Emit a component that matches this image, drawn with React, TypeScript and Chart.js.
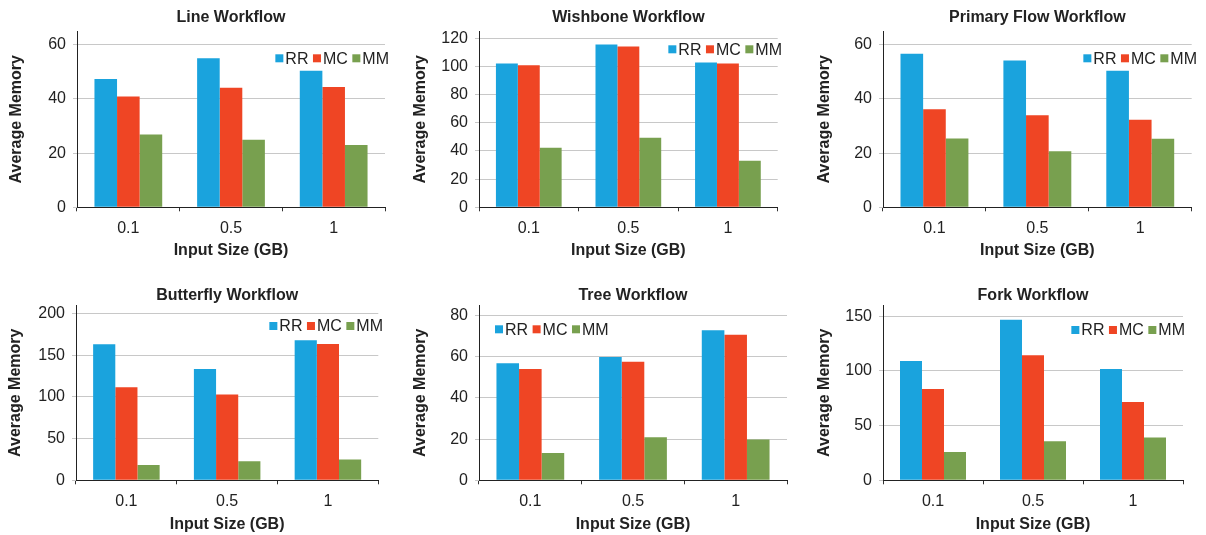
import React, { useEffect, useRef } from "react";
import { Chart, registerables } from "chart.js";

Chart.register(...registerables);

const FONT = "'Liberation Sans', Arial, Helvetica, sans-serif";

// ---------------- data ----------------
const categories = ["0.1", "0.5", "1"];
const seriesNames = ["RR", "MC", "MM"];

const lineRR = [47.4, 55.0, 50.4];
const lineMC = [40.9, 44.1, 44.4];
const lineMM = [26.9, 24.9, 23.0];

const wishboneRR = [102.0, 115.5, 102.7];
const wishboneMC = [100.8, 114.1, 102.0];
const wishboneMM = [42.2, 49.3, 33.0];

const primaryRR = [56.7, 54.2, 50.4];
const primaryMC = [36.2, 34.0, 32.3];
const primaryMM = [25.4, 20.7, 25.3];

const butterflyRR = [163.2, 133.6, 168.0];
const butterflyMC = [111.6, 102.8, 163.6];
const butterflyMM = [18.4, 22.8, 24.8];

const treeRR = [56.8, 59.9, 72.9];
const treeMC = [54.0, 57.6, 70.6];
const treeMM = [13.3, 20.9, 19.8];

const forkRR = [109.1, 146.6, 101.8];
const forkMC = [83.5, 114.3, 71.6];
const forkMM = [25.9, 35.7, 39.0];

const titles = [
  "Line Workflow",
  "Wishbone Workflow",
  "Primary Flow Workflow",
  "Butterfly Workflow",
  "Tree Workflow",
  "Fork Workflow",
];
const yMax = [65, 125, 65, 210, 85, 160];
const yTickTop = [60, 120, 60, 200, 80, 150];
const yStep = [20, 20, 20, 50, 20, 50];
const yTitle = "Average Memory";
const xTitle = "Input Size (GB)";

const panelData = [
  [lineRR, lineMC, lineMM],
  [wishboneRR, wishboneMC, wishboneMM],
  [primaryRR, primaryMC, primaryMM],
  [butterflyRR, butterflyMC, butterflyMM],
  [treeRR, treeMC, treeMM],
  [forkRR, forkMC, forkMM],
];

// ---------------- styles / layout ----------------
const COLORS = ["#1aa3dd", "#ef4524", "#78a04f"];

const LAYOUT = [
  { x: 0, y: 0, w: 402, h: 270, yw: 77, pr: 17, xh: 62.7, tTop: 8, tBot: 4, yTitleX: 16.7, xTitlePad: 10, legSide: "right", legX: 389, legY: 58.3 },
  { x: 402, y: 0, w: 402, h: 270, yw: 77, pr: 26.3, xh: 62.7, tTop: 8, tBot: 4, yTitleX: 18.8, xTitlePad: 10, legSide: "right", legX: 380, legY: 49.3 },
  { x: 804, y: 0, w: 402, h: 270, yw: 79, pr: 14.3, xh: 62.7, tTop: 8, tBot: 4, yTitleX: 20.8, xTitlePad: 10, legSide: "right", legX: 393, legY: 58.3 },
  { x: 0, y: 270, w: 402, h: 265, yw: 76, pr: 23.7, xh: 54.7, tTop: 16, tBot: 0, yTitleX: 15.7, xTitlePad: 0.5, legSide: "right", legX: 383, legY: 56 },
  { x: 402, y: 270, w: 402, h: 265, yw: 77, pr: 17, xh: 54.7, tTop: 16, tBot: 0, yTitleX: 18.8, xTitlePad: 0.5, legSide: "left", legX: 93, legY: 59.3 },
  { x: 804, y: 270, w: 402, h: 265, yw: 79, pr: 23, xh: 54.7, tTop: 16, tBot: 0, yTitleX: 21, xTitlePad: 0.5, legSide: "right", legX: 381, legY: 60 },
];

const insideLegend = {
  id: "insideLegend",
  afterDraw(chart: any, _args: any, opts: any) {
    const ctx = chart.ctx;
    const box = 8;
    const gapBoxText = 2;
    const gapItem = 4.5;
    ctx.save();
    ctx.font = `16px ${FONT}`;
    ctx.textBaseline = "middle";
    ctx.textAlign = "left";
    const items = chart.data.datasets.map((d: any) => ({
      label: d.label,
      color: d.backgroundColor,
      w: ctx.measureText(d.label).width,
    }));
    let total = 0;
    items.forEach((it: any, i: number) => {
      total += box + gapBoxText + it.w + (i < items.length - 1 ? gapItem : 0);
    });
    let x = opts.side === "right" ? opts.x - total : opts.x;
    const y = opts.y;
    items.forEach((it: any) => {
      ctx.fillStyle = it.color;
      ctx.fillRect(x, y - box / 2, box, box);
      x += box + gapBoxText;
      ctx.fillStyle = "#222";
      ctx.fillText(it.label, x, y + 1);
      x += it.w + gapItem;
    });
    ctx.restore();
  },
};

function Panel({ idx }: { idx: number }) {
  const ref = useRef<HTMLCanvasElement | null>(null);
  const L = LAYOUT[idx];
  useEffect(() => {
    if (!ref.current) return;
    const step = yStep[idx];
    const top = yTickTop[idx];
    const chart = new Chart(ref.current, {
      type: "bar",
      data: {
        labels: categories,
        datasets: seriesNames.map((name, i) => ({
          label: name,
          data: panelData[idx][i],
          backgroundColor: COLORS[i],
          borderWidth: 0,
          categoryPercentage: 0.66,
          barPercentage: 1.0,
        })),
      },
      options: {
        responsive: false,
        animation: false,
        layout: { padding: { left: 0, right: L.pr, top: 0, bottom: 0 } },
        plugins: {
          legend: { display: false },
          tooltip: { enabled: false },
          title: {
            display: true,
            text: titles[idx],
            fullSize: false,
            color: "#222",
            font: { family: FONT, size: 16, weight: "bold" },
            padding: { top: L.tTop, bottom: L.tBot },
          },
          insideLegend: { side: L.legSide, x: L.legX, y: L.legY },
        } as any,
        scales: {
          x: {
            offset: true,
            grid: {
              offset: true,
              drawOnChartArea: false,
              drawTicks: true,
              tickLength: 4,
              color: "#333",
            },
            border: { color: "#222", width: 1 },
            ticks: {
              color: "#222",
              font: { family: FONT, size: 16 },
              padding: 8,
              maxRotation: 0,
            },
            title: {
              display: true,
              text: xTitle,
              color: "#222",
              font: { family: FONT, size: 16, weight: "bold" },
              padding: { top: 0, bottom: L.xTitlePad },
            },
            afterFit: (s: any) => {
              s.height = L.xh;
            },
          },
          y: {
            min: 0,
            max: yMax[idx],
            grid: {
              color: "#c8c8c8",
              lineWidth: 1,
              drawTicks: true,
              tickLength: 4,
            },
            border: { color: "#222", width: 1 },
            ticks: {
              stepSize: step,
              color: "#222",
              font: { family: FONT, size: 16 },
              padding: 7,
            },
            afterBuildTicks: (axis: any) => {
              const t: any[] = [];
              for (let v = 0; v <= top + 1e-9; v += step) t.push({ value: v });
              axis.ticks = t;
            },
            title: {
              display: true,
              text: yTitle,
              color: "#222",
              font: { family: FONT, size: 16, weight: "bold" },
              padding: { top: L.yTitleX - 9.6, bottom: 0 },
            },
            afterFit: (s: any) => {
              s.width = L.yw;
            },
          },
        },
      },
      plugins: [insideLegend],
    });
    return () => chart.destroy();
  }, [idx]);

  return (
    <div style={{ position: "absolute", left: L.x, top: L.y, width: L.w, height: L.h }}>
      <canvas ref={ref} width={L.w} height={L.h} style={{ display: "block" }} />
    </div>
  );
}

export default function App() {
  return (
    <div style={{ position: "absolute", left: 0, top: 0, width: 1206, height: 535, background: "#fff" }}>
      {LAYOUT.map((_, i) => (
        <Panel key={i} idx={i} />
      ))}
    </div>
  );
}
